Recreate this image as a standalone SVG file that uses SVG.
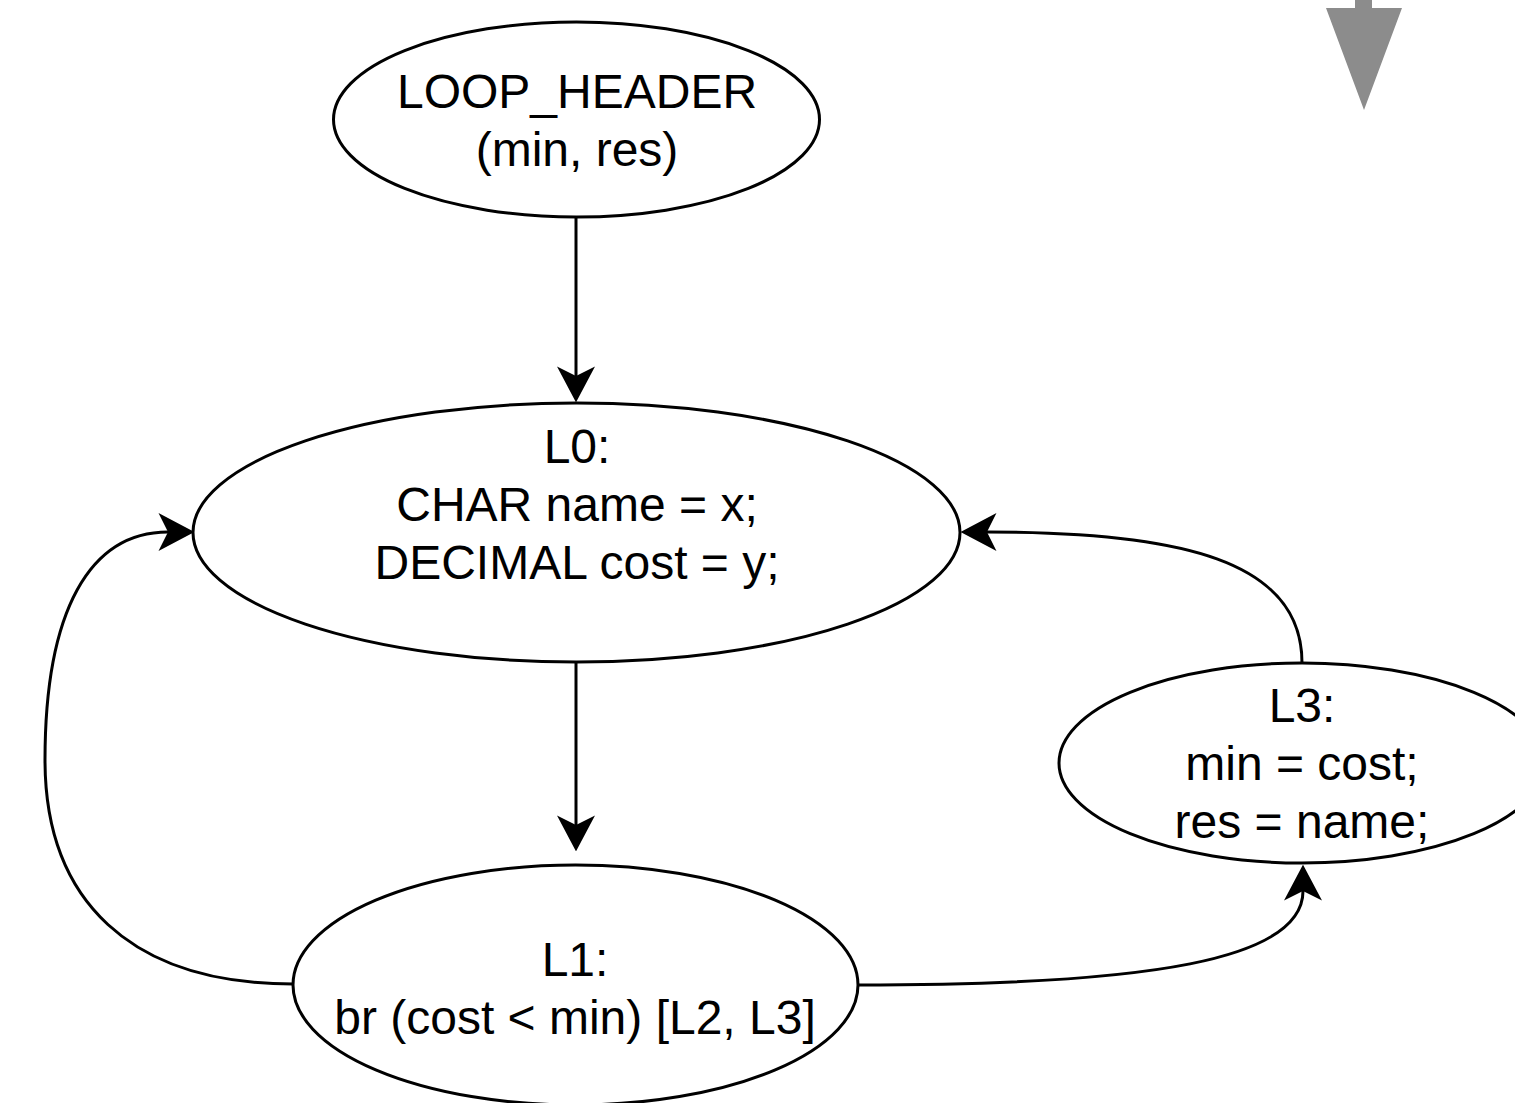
<svg xmlns="http://www.w3.org/2000/svg" width="1515" height="1103" viewBox="0 0 1515 1103">
<style>
.node{fill:#ffffff;stroke:#000000;stroke-width:3}
.lbl{font-family:"Liberation Sans",Arial,Helvetica,sans-serif;font-size:48px;fill:#000000;text-anchor:middle}
.edge{fill:none;stroke:#000000;stroke-width:3}
</style>
<defs>
<marker id="arr" markerUnits="userSpaceOnUse" markerWidth="36" markerHeight="38" viewBox="0 0 34 36" refX="9" refY="18" orient="auto">
<path d="M0,0 L34,18 L0,36 L9,18 Z" fill="#000000"/>
</marker>
</defs>
<rect x="0" y="0" width="1515" height="1103" fill="#ffffff"/>
<g id="gray-arrow">
<path d="M1355,0 L1372,0 L1372,8 L1402,8 L1364,110 L1326,8 L1355,8 Z" fill="#8c8c8c"/>
</g>
<g id="connectors">
<path class="edge" d="M576,217 L576,376" marker-end="url(#arr)"/>
<path class="edge" d="M576,662 L576,825" marker-end="url(#arr)"/>
<path class="edge" d="M293,984 C130,984 45,900 45,760 C45,610 90,532 168,532" marker-end="url(#arr)"/>
<path class="edge" d="M1302,663 C1302,560 1180,532 987,532" marker-end="url(#arr)"/>
<path class="edge" d="M858,985 C1150,985 1303,960 1303,891" marker-end="url(#arr)"/>
</g>
<g id="loop-header">
<ellipse class="node" cx="576.5" cy="119.5" rx="243" ry="97.5"/>
<text class="lbl" x="577" y="108">LOOP_HEADER</text>
<text class="lbl" x="577" y="166">(min, res)</text>
</g>
<g id="L0">
<ellipse class="node" cx="576.5" cy="532.5" rx="383.5" ry="129.5"/>
<text class="lbl" x="577" y="463">L0:</text>
<text class="lbl" x="577" y="521">CHAR name = x;</text>
<text class="lbl" x="577" y="579">DECIMAL cost = y;</text>
</g>
<g id="L1">
<ellipse class="node" cx="575.5" cy="985" rx="282.5" ry="120"/>
<text class="lbl" x="575" y="976">L1:</text>
<text class="lbl" x="575" y="1034">br (cost &lt; min) [L2, L3]</text>
</g>
<g id="L3">
<ellipse class="node" cx="1302" cy="763" rx="243" ry="100"/>
<text class="lbl" x="1302" y="722">L3:</text>
<text class="lbl" x="1302" y="780">min = cost;</text>
<text class="lbl" x="1302" y="838">res = name;</text>
</g>
</svg>
